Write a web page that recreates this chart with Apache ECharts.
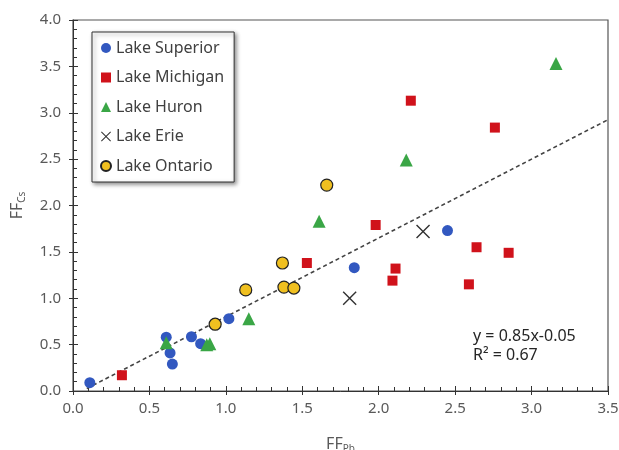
<!DOCTYPE html>
<html><head><meta charset="utf-8">
<script src="https://cdn.jsdelivr.net/npm/echarts@6/dist/echarts.min.js"></script>
<style>html,body{margin:0;padding:0;background:#fff}#c{width:619px;height:450px}</style>
</head><body><div id="c"></div>
<script>
const xTicks = [0.0, 0.5, 1.0, 1.5, 2.0, 2.5, 3.0, 3.5];
const yTicks = [0.0, 0.5, 1.0, 1.5, 2.0, 2.5, 3.0, 3.5, 4.0];
const seriesNames = ['Lake Superior', 'Lake Michigan', 'Lake Huron', 'Lake Erie', 'Lake Ontario'];
const superior = [[0.11,0.09],[0.61,0.58],[0.635,0.41],[0.65,0.29],[0.775,0.585],[0.835,0.51],[1.02,0.78],[1.84,1.33],[2.45,1.73]];
const michigan = [[0.32,0.17],[1.53,1.38],[1.98,1.79],[2.11,1.32],[2.09,1.19],[2.64,1.55],[2.85,1.49],[2.59,1.15],[2.21,3.13],[2.76,2.84]];
const huron = [[0.61,0.52],[0.875,0.50],[0.895,0.51],[1.15,0.78],[1.61,1.83],[2.18,2.49],[3.16,3.53]];
const erie = [[2.29,1.72],[1.81,1.00]];
const ontario = [[1.13,1.09],[0.93,0.72],[1.66,2.22],[1.37,1.38],[1.38,1.12],[1.445,1.11]];
const trendSlope = 0.85, trendIntercept = -0.05;
const trendXRange = [0.09, 3.5];
const eqText = ['y = 0.85x-0.05', 'R\u00b2 = 0.67'];

const FONT = 'Noto Sans';
const xPath = 'path://M0,1L1,0L7,6L13,0L14,1L8,7L14,13L13,14L7,8L1,14L0,13L6,7Z';
const trend = trendXRange.map(x => [x, trendSlope * x + trendIntercept]);

const axisCommon = {
  min: 0, interval: 0.5, splitNumber: 5,
  axisLine: {show: true, lineStyle: {color: '#333', width: 1}},
  axisTick: {show: true, inside: true, length: 5, lineStyle: {color: '#333'}},
  minorTick: {show: true, splitNumber: 5, length: 4, lineStyle: {color: '#333'}},
  splitLine: {show: false},
  axisLabel: {color: '#595959', fontSize: 15, fontFamily: FONT, formatter: v => v.toFixed(1)}
};
const crossAxis = {
  min: 0, interval: 0.5,
  axisLine: {show: false},
  axisTick: {show: true, inside: false, length: 4, lineStyle: {color: '#333'}},
  axisLabel: {show: false}, splitLine: {show: false}
};
const nameRich = {m: {fontSize: 16, color: '#595959', fontFamily: FONT}, s: {fontSize: 10, color: '#595959', fontFamily: FONT, verticalAlign: 'bottom', padding: [9,0,0,0]}};

const chart = echarts.init(document.getElementById('c'), null, {renderer: 'canvas'});
chart.setOption({
  animation: false,
  backgroundColor: '#fff',
  grid: {left: 73, right: 11, top: 20, bottom: 59, containLabel: false, outerBoundsMode: 'none',
         show: true, borderColor: '#555', borderWidth: 1.2, backgroundColor: 'transparent'},
  xAxis: [
    Object.assign({}, axisCommon, {type: 'value', max: xTicks[xTicks.length-1],
      name: '{m|FF}{s|Pb}', nameLocation: 'middle', nameGap: 44,
      nameTextStyle: {rich: nameRich},
      axisLabel: Object.assign({}, axisCommon.axisLabel, {margin: 10})}),
    Object.assign({}, crossAxis, {type: 'value', max: xTicks[xTicks.length-1], position: 'bottom'})
  ],
  yAxis: [
    Object.assign({}, axisCommon, {type: 'value', max: yTicks[yTicks.length-1],
      name: '{m|FF}{s|Cs}', nameLocation: 'middle', nameGap: 46, nameRotate: 90,
      nameTextStyle: {rich: nameRich},
      axisLabel: Object.assign({}, axisCommon.axisLabel, {margin: 12})}),
    Object.assign({}, crossAxis, {type: 'value', max: yTicks[yTicks.length-1], position: 'left'})
  ],
  legend: {
    data: seriesNames,
    orient: 'vertical', left: 92, top: 32,
    backgroundColor: '#fff', borderColor: '#333', borderWidth: 1,
    padding: [8, 10, 8, 8],
    itemWidth: 10, itemHeight: 10, itemGap: 13.5,
    shadowColor: 'rgba(0,0,0,0.45)', shadowBlur: 4, shadowOffsetX: 2, shadowOffsetY: 2,
    textStyle: {fontSize: 16, color: '#404040', fontFamily: FONT}
  },
  graphic: [
    {type: 'text', left: 473, top: 328, style: {text: eqText[0], fontSize: 16, fontFamily: FONT, fill: '#262626'}},
    {type: 'text', left: 473, top: 347, style: {text: eqText[1], fontSize: 16, fontFamily: FONT, fill: '#262626'}}
  ],
  series: [
    {type: 'line', data: trend, symbol: 'none', silent: true, z: 1,
     lineStyle: {color: '#444', width: 1.6, type: [4, 3]}},
    {name: seriesNames[0], type: 'scatter', data: superior, symbol: 'circle', symbolSize: 11, z: 3,
     itemStyle: {color: '#3258c0', opacity: 1}},
    {name: seriesNames[1], type: 'scatter', data: michigan, symbol: 'rect', symbolSize: 10, z: 3,
     itemStyle: {color: '#d0121b', opacity: 1}},
    {name: seriesNames[2], type: 'scatter', data: huron, symbol: 'triangle', symbolSize: 13, z: 3,
     itemStyle: {color: '#3aa646', opacity: 1}},
    {name: seriesNames[3], type: 'scatter', data: erie, symbol: xPath, symbolSize: 14, z: 3,
     itemStyle: {color: '#333', opacity: 1}},
    {name: seriesNames[4], type: 'scatter', data: ontario, symbol: 'circle', symbolSize: 12, z: 3,
     itemStyle: {color: '#f0c020', borderColor: '#222', borderWidth: 1.2, opacity: 1}}
  ]
});
</script></body></html>
